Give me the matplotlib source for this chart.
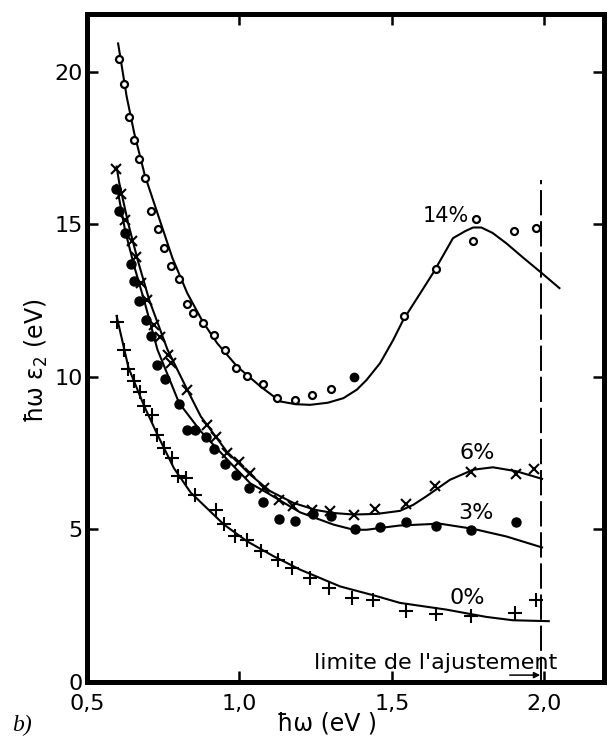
# -*- coding: utf-8 -*-

import numpy as np
import matplotlib.pyplot as plt

# =============================================================================
#               DATOS
# =============================================================================

# 14 % : puntos (circulos abiertos)
x14 = [0.606, 0.622, 0.637, 0.653, 0.669, 0.691, 0.711, 0.732, 0.752, 0.777,
       0.802, 0.827, 0.849, 0.880, 0.916, 0.953, 0.989, 1.025, 1.077, 1.122,
       1.182, 1.238, 1.301, 1.540, 1.643, 1.764, 1.775, 1.901, 1.972]
y14 = [20.42, 19.60, 18.52, 17.77, 17.14, 16.51, 15.44, 14.85, 14.23, 13.64,
       13.20, 12.38, 12.09, 11.78, 11.38, 10.89, 10.30, 10.01, 9.76, 9.32,
       9.24, 9.41, 9.60, 11.98, 13.54, 14.46, 15.18, 14.80, 14.88]
x14_lleno = [1.376]
y14_lleno = [9.99]

# 6 % : cruces x
x6 = [0.595, 0.613, 0.624, 0.646, 0.660, 0.676, 0.698, 0.720, 0.738, 0.764,
      0.777, 0.829, 0.892, 0.922, 0.958, 0.998, 1.036, 1.079, 1.128, 1.177,
      1.238, 1.297, 1.374, 1.444, 1.546, 1.641, 1.760, 1.905, 1.967]
y6 = [16.82, 15.99, 15.15, 14.47, 13.94, 13.07, 12.52, 11.70, 11.30, 10.72,
      10.45, 9.57, 8.43, 8.04, 7.50, 7.22, 6.84, 6.35, 5.97, 5.75,
      5.64, 5.58, 5.48, 5.66, 5.83, 6.40, 6.86, 6.82, 6.98]

# 3 % : puntos llenos
x3 = [0.595, 0.606, 0.625, 0.644, 0.655, 0.671, 0.693, 0.711, 0.731, 0.755,
      0.802, 0.827, 0.854, 0.889, 0.918, 0.952, 0.989, 1.030, 1.077, 1.128,
      1.181, 1.241, 1.300, 1.380, 1.461, 1.546, 1.644, 1.760, 1.905]
y3 = [16.16, 15.45, 14.71, 13.69, 13.15, 12.49, 11.85, 11.34, 10.39, 9.93,
      9.10, 8.26, 8.26, 8.01, 7.63, 7.15, 6.79, 6.35, 5.89, 5.34,
      5.26, 5.51, 5.42, 5.00, 5.06, 5.22, 5.09, 4.98, 5.22]

# 0 % : cruces +
x0 = [0.597, 0.622, 0.636, 0.653, 0.674, 0.687, 0.712, 0.731, 0.753, 0.778,
      0.798, 0.824, 0.853, 0.922, 0.949, 0.984, 1.025, 1.069, 1.125, 1.172,
      1.230, 1.294, 1.368, 1.437, 1.546, 1.644, 1.760, 1.902, 1.971]
y0 = [11.79, 10.89, 10.26, 9.87, 9.49, 9.03, 8.73, 8.10, 7.66, 7.35,
      6.76, 6.68, 6.13, 5.62, 5.17, 4.76, 4.66, 4.27, 4.00, 3.73,
      3.40, 3.07, 2.74, 2.66, 2.33, 2.22, 2.14, 2.25, 2.66]

# curvas de ajuste
cx14 = [0.602, 0.630, 0.655, 0.690, 0.731, 0.780, 0.829, 0.880, 0.927, 0.992,
        1.069, 1.134, 1.185, 1.232, 1.290, 1.341, 1.385, 1.417, 1.461, 1.504,
        1.537, 1.590, 1.635, 1.700, 1.740, 1.766, 1.793, 1.830, 1.875, 1.930,
        1.989, 2.049]
cy14 = [20.94, 19.20, 17.99, 16.60, 15.37, 13.90, 12.74, 11.80, 11.10, 10.34,
        9.68, 9.19, 9.10, 9.08, 9.15, 9.30, 9.58, 9.90, 10.45, 11.21,
        11.87, 12.70, 13.41, 14.55, 14.78, 14.90, 14.90, 14.72, 14.38, 13.91,
        13.42, 12.91]

cx6 = [0.597, 0.606, 0.636, 0.666, 0.704, 0.764, 0.829, 0.873, 0.958, 1.036,
       1.100, 1.177, 1.250, 1.308, 1.374, 1.450, 1.526, 1.570, 1.613, 1.690,
       1.766, 1.831, 1.908, 1.992]
cy6 = [16.90, 16.35, 15.00, 13.84, 12.52, 10.89, 9.57, 8.70, 7.55, 6.78,
       6.25, 5.86, 5.63, 5.53, 5.48, 5.50, 5.60, 5.80, 6.08, 6.62,
       6.95, 7.03, 6.90, 6.65]

cx3 = [0.597, 0.625, 0.655, 0.687, 0.731, 0.802, 0.873, 0.981, 1.036, 1.091,
       1.199, 1.308, 1.374, 1.417, 1.470, 1.526, 1.657, 1.766, 1.875, 1.992]
cy3 = [16.30, 14.80, 13.62, 12.52, 10.89, 9.14, 8.21, 7.06, 6.50, 6.19,
       5.55, 5.15, 4.98, 4.98, 5.05, 5.12, 5.18, 5.01, 4.76, 4.40]

cx0 = [0.597, 0.636, 0.687, 0.731, 0.785, 0.840, 0.949, 1.025, 1.112, 1.199,
       1.330, 1.450, 1.526, 1.678, 1.809, 1.896, 2.014]
cy0 = [12.00, 10.30, 9.05, 8.10, 7.00, 6.20, 5.15, 4.60, 4.11, 3.67,
       3.12, 2.80, 2.58, 2.36, 2.12, 2.01, 1.98]

xticks = [0.5, 1.0, 1.5, 2.0]
xtick_labels = ['0,5', '1,0', '1,5', '2,0']
yticks = [0, 5, 10, 15, 20]
ytick_labels = ['0', '5', '10', '15', '20']

x_limite = 1.989

# =============================================================================
#                              PLOTEO
# =============================================================================

plt.rcParams['font.family'] = ['DejaVu Sans']

W, H = 609, 737
fig = plt.figure(figsize=(W/100, H/100), dpi=100)
ax = fig.add_axes([87/W, 1 - 681.5/H, (604 - 87)/W, (681.5 - 13.5)/H])

k = 'black'
ax.plot(cx14, cy14, color=k, lw=1.5)
ax.plot(cx6, cy6, color=k, lw=1.5)
ax.plot(cx3, cy3, color=k, lw=1.5)
ax.plot(cx0, cy0, color=k, lw=1.5)

ax.plot(x14, y14, 'o', mfc='white', mec=k, ms=5, mew=1.6, ls='none')
ax.plot(x14_lleno, y14_lleno, 'o', color=k, ms=6, ls='none')
ax.plot(x6, y6, 'x', color=k, ms=7, mew=1.5, ls='none')
ax.plot(x3, y3, 'o', color=k, ms=6.5, ls='none')
ax.plot(x0, y0, '+', color=k, ms=9.5, mew=1.5, ls='none')

# limite del ajuste
ax.plot([x_limite, x_limite], [0, 16.46], color=k, lw=1.4, ls=(0, (13, 3)))
ax.annotate('', xy=(1.995, 0.21), xytext=(1.877, 0.21),
            arrowprops=dict(arrowstyle='-|>', lw=1.1, color=k, mutation_scale=9))
ax.text(1.643, 0.62, "limite de l'ajustement", ha='center', va='center', fontsize=16)

ax.text(1.752, 15.28, '14%', ha='right', va='center', fontsize=15)
ax.text(1.779, 7.50, '6%', ha='center', va='center', fontsize=16)
ax.text(1.775, 5.53, '3%', ha='center', va='center', fontsize=16)
ax.text(1.746, 2.74, '0%', ha='center', va='center', fontsize=16)

ax.set_xlim(0.5, 0.5 + (604 - 87)/305)
ax.set_ylim(0, (681.5 - 13.5)/30.47)
ax.set_xticks(xticks)
ax.set_xticklabels(xtick_labels)
ax.set_yticks(yticks)
ax.set_yticklabels(ytick_labels)
ax.tick_params(direction='in', top=True, right=True, length=8, width=1.8,
               labelsize=16, color=k)
ax.tick_params(axis='x', pad=9)
ax.tick_params(axis='y', pad=3)
for s in ax.spines.values():
    s.set_linewidth(3.6)

fig.text(327/W, 1 - 724/H, 'ħω (eV )', ha='center', va='center', fontsize=17)
fig.text(36/W, 1 - 361/H, 'ħω ε$_2$ (eV)', ha='center', va='center',
         rotation=90, fontsize=17)
fig.text(22/W, 1 - 725/H, 'b)', ha='center', va='center', fontsize=17,
         family=['Liberation Serif'], style='italic')

fig.savefig('out.png', dpi=100)
